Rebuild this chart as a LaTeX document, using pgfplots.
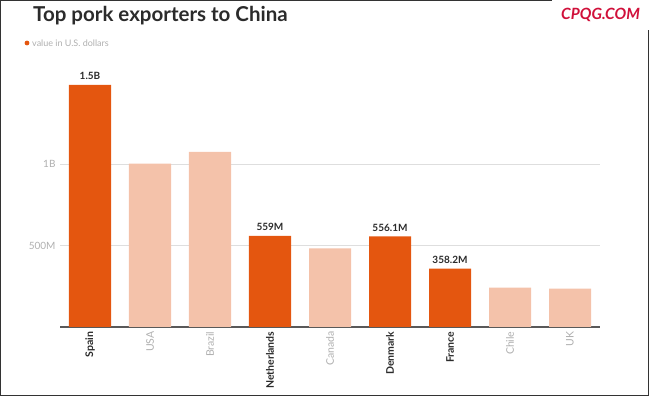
\documentclass[border=0pt]{standalone}
\usepackage{fontspec}
\setmainfont{Lato}
\usepackage{pgfplots}
\pgfplotsset{compat=1.18}
\definecolor{darkor}{HTML}{E4560F}
\definecolor{lightor}{HTML}{F4C2AA}
\definecolor{wm}{HTML}{D0103A}
\definecolor{txtdark}{HTML}{2B2B2B}
\definecolor{txtgray}{HTML}{AFAFAF}
\begin{document}
\begin{tikzpicture}
\useasboundingbox (0pt,0pt) rectangle (650pt,396pt);
\draw[line width=1.3pt, color=black!80] (0.65pt,396pt) -- (0.65pt,0.65pt) -- (648.6pt,0.65pt) -- (648.6pt,366pt);
\draw[line width=1.3pt, color=black!80] (0.65pt,395.35pt) -- (552pt,395.35pt);
\node[anchor=base west, inner sep=0, text=txtdark, font=\fontsize{20.5}{24}\selectfont\bfseries] at (33pt,374pt) {Top pork exporters to China};
\node[anchor=base west, inner sep=0, text=wm, font=\fontsize{15.5}{18}\selectfont\bfseries\itshape] at (561pt,376pt) {CPQG.COM};
\fill[darkor] (27pt,353pt) circle (2.4pt);
\node[anchor=west, inner sep=0, text=txtgray, font=\fontsize{9}{11}\selectfont] at (32pt,353pt) {value in U.S. dollars};
\begin{axis}[
  at={(60pt,69pt)}, anchor=south west,
  scale only axis, width=540pt, height=244.5pt,
  xmin=-0.5, xmax=8.5, ymin=0, ymax=1500,
  clip=false,
  axis x line*=bottom, axis y line*=left,
  y axis line style={draw=none},
  x axis line style={draw=black!65, line width=1.2pt},
  ytick={500,1000}, yticklabels={500M,1B},
  ymajorgrids, grid style={black!13, line width=0.8pt},
  major tick length=0pt,
  yticklabel style={text=txtgray, font=\fontsize{10}{12}\selectfont, xshift=-1pt},
  xtick={0,...,8},
  xticklabels={{\bfseries\color{txtdark}Spain},{\color{txtgray}USA},{\color{txtgray}Brazil},{\bfseries\color{txtdark}Netherlands},{\color{txtgray}Canada},{\bfseries\color{txtdark}Denmark},{\bfseries\color{txtdark}France},{\color{txtgray}Chile},{\color{txtgray}UK}},
  xticklabel style={rotate=90, anchor=east, font=\fontsize{10.5}{12}\selectfont, xshift=-1pt},
]
\addplot[ybar, bar width=42pt, bar shift=0pt, fill=lightor, draw=none]
  coordinates {(1,1003) (2,1074) (4,483) (7,241) (8,235)};
\addplot[ybar, bar width=42pt, bar shift=0pt, fill=darkor, draw=none,
  point meta=explicit symbolic, nodes near coords,
  every node near coord/.append style={font=\fontsize{10}{12}\selectfont\bfseries, text=txtdark, anchor=south, yshift=1.5pt}]
  coordinates {(0,1485)[1.5B] (3,559)[559M] (5,556.1)[556.1M] (6,358.2)[358.2M]};
\end{axis}
\end{tikzpicture}
\end{document}
